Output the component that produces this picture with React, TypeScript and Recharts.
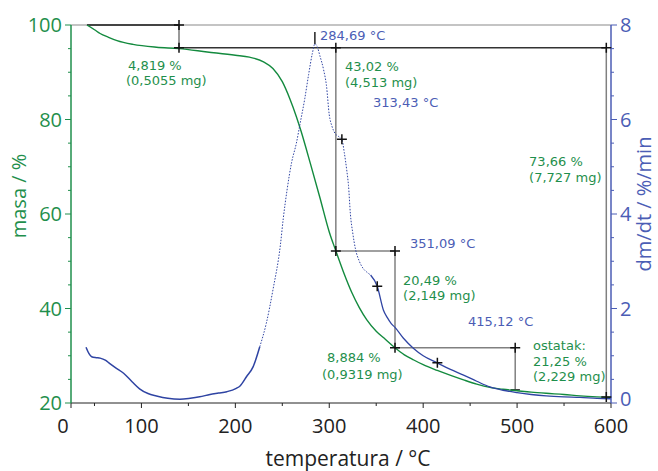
import { LineChart, Line, XAxis, YAxis, ReferenceLine, ReferenceDot } from 'recharts';

// TG curve (masa / %)
const tgTemp = [42, 50, 56, 65, 74, 91, 116, 140, 170, 200, 215, 230, 240, 250, 258, 265, 270, 280, 290, 300, 307, 315, 324, 332, 340, 350, 358, 370, 380, 390, 400, 415, 430, 443, 457, 471, 485, 500, 515, 531, 550, 567, 585, 600];
const tgMass = [100, 99.0, 98.2, 97.4, 96.7, 95.9, 95.3, 95.0, 94.3, 93.6, 93.2, 92.2, 90.8, 88.0, 84.4, 80.6, 77.5, 70.6, 63.5, 56.2, 52.2, 47.8, 43.4, 40.2, 37.6, 35.2, 33.8, 31.7, 30.2, 29.1, 28.1, 26.9, 25.8, 24.9, 24.0, 23.3, 22.9, 22.6, 22.3, 22.05, 21.8, 21.5, 21.3, 21.2];

// DTG curve (dm/dt / %/min), split where the original turns dotted
const dtgLowTemp = [41, 44, 47, 52, 56, 62, 66, 73, 81, 90, 98, 107, 116, 128, 141, 152, 162, 173, 182, 191, 201, 205, 212, 219, 226];
const dtgLowRate = [1.18, 1.05, 0.98, 0.96, 0.95, 0.9, 0.84, 0.74, 0.63, 0.45, 0.3, 0.2, 0.15, 0.1, 0.08, 0.1, 0.13, 0.18, 0.21, 0.24, 0.31, 0.36, 0.56, 0.77, 1.19];
const dtgPeakTemp = [226, 233, 240, 248, 251, 255, 260, 265, 269, 274, 278, 282, 284.7, 287, 290, 294, 297, 300, 303, 306, 310, 313.4, 316, 318.6, 320.5, 322.5, 325, 328, 332, 336, 340, 344];
const dtgPeakRate = [1.19, 1.69, 2.39, 3.35, 3.9, 4.5, 5.1, 5.5, 5.92, 6.45, 6.95, 7.4, 7.6, 7.55, 7.35, 7.05, 6.72, 6.1, 5.85, 5.71, 5.64, 5.58, 5.3, 4.93, 4.6, 4.0, 3.6, 3.25, 3.0, 2.85, 2.77, 2.71];
const dtgTailTemp = [344, 351.1, 357.6, 362, 366, 370, 379, 389.5, 400, 415, 429, 443, 457, 471, 485, 500, 515, 531, 550, 567, 585, 600];
const dtgTailRate = [2.71, 2.47, 1.97, 1.8, 1.68, 1.6, 1.37, 1.16, 1.0, 0.85, 0.71, 0.59, 0.46, 0.34, 0.27, 0.22, 0.18, 0.15, 0.13, 0.12, 0.1, 0.09];

// step analysis points
const stepTemps = [140, 307, 370, 498, 595];
const stepMass = [100, 95.18, 52.16, 31.67, 22.79, 21.25];
const peakTemps = [284.69, 313.43, 351.09, 415.12];
const peakRates = [7.6, 5.58, 2.47, 0.85];

const xTicks = Array.from({ length: 24 }, (_, i) => 25 + i * 25);
const yLeftTicks = Array.from({ length: 17 }, (_, i) => 20 + i * 5);
const yRightTicks = Array.from({ length: 17 }, (_, i) => i * 0.5);

const tgData = tgTemp.map((t, i) => ({ temp: t, masa: tgMass[i] }));
const dtgLow = dtgLowTemp.map((t, i) => ({ temp: t, rate: dtgLowRate[i] }));
const dtgPeak = dtgPeakTemp.map((t, i) => ({ temp: t, rate: dtgPeakRate[i] }));
const dtgTail = dtgTailTemp.map((t, i) => ({ temp: t, rate: dtgTailRate[i] }));

const GREEN = '#1f8f4c';
const GREEN_LINE = '#138a3e';
const BLUE = '#4b5db5';
const BLUE_LINE = '#2f44a3';
const FONT = '"Open Sans", sans-serif';
const NOTE_FONT = '"DejaVu Sans", sans-serif';

// annotation blocks: anchor in data units, lines with small px indents
const notes = [
  { x: 85.7, y: 90.5, lines: ['4,819 %', '(0,5055 mg)'], indent: [0, -2], gap: 15.5, color: GREEN },
  { x: 290.2, y: 96.8, lines: ['284,69 °C'], indent: [0], gap: 16, color: BLUE },
  { x: 316.8, y: 90.3, lines: ['43,02 %', '(4,513 mg)'], indent: [0, 0], gap: 16, color: GREEN },
  { x: 346.6, y: 82.6, lines: ['313,43 °C'], indent: [0], gap: 16, color: BLUE },
  { x: 512.8, y: 70.2, lines: ['73,66 %', '(7,727 mg)'], indent: [0, 0], gap: 16, color: GREEN },
  { x: 386.0, y: 52.8, lines: ['351,09 °C'], indent: [0], gap: 16, color: BLUE },
  { x: 378.6, y: 45.0, lines: ['20,49 %', '(2,149 mg)'], indent: [0, 0], gap: 15.5, color: GREEN },
  { x: 447.8, y: 36.3, lines: ['415,12 °C'], indent: [0], gap: 16, color: BLUE },
  { x: 297.6, y: 28.7, lines: ['8,884 %', '(0,9319 mg)'], indent: [0, -5], gap: 17, color: GREEN },
  { x: 517.0, y: 31.2, lines: ['ostatak:', '21,25 %', '(2,229 mg)'], indent: [0, 0, 0], gap: 15.5, color: GREEN },
];

const Cross = (props: any) => {
  const { cx, cy } = props;
  return <path d={`M${cx - 5},${cy}H${cx + 5}M${cx},${cy - 5}V${cy + 5}`} stroke="#111" strokeWidth={1.5} fill="none" />;
};

const XTick = (props: any) => {
  const { x, y, payload } = props;
  const v = payload.value;
  const major = v % 100 === 0 || v === 25;
  return (
    <g>
      <line x1={x} y1={y} x2={x} y2={y + (major ? 5 : 3)} stroke="#222" />
      {major && (
        <text x={v === 25 ? x - 8 : x} y={y + 30} textAnchor="middle" fill="#222" fontSize={20} fontFamily={FONT}>
          {v === 25 ? 0 : v}
        </text>
      )}
    </g>
  );
};

const LeftTick = (props: any) => {
  const { x, y, payload } = props;
  const major = payload.value % 20 === 0;
  return (
    <g>
      <line x1={x} y1={y} x2={x - (major ? 6 : 3)} y2={y} stroke={GREEN} />
      {major && (
        <text x={x - 9} y={y} dy="0.35em" textAnchor="end" fill={GREEN} fontSize={20} fontFamily={FONT}>
          {payload.value}
        </text>
      )}
    </g>
  );
};

const RightTick = (props: any) => {
  const { x, y, payload } = props;
  const major = payload.value % 2 === 0;
  return (
    <g>
      <line x1={x} y1={y} x2={x + (major ? 6 : 3)} y2={y} stroke={BLUE} />
      {major && (
        <text x={x + 9} y={payload.value === 0 ? y - 4 : y} dy="0.35em" textAnchor="start" fill={BLUE} fontSize={20} fontFamily={FONT}>
          {payload.value}
        </text>
      )}
    </g>
  );
};

const seg = (x1: number, y1: number, x2: number, y2: number) => [{ x: x1, y: y1 }, { x: x2, y: y2 }];

export default function App() {
  const [t1, t2, t3, t4, t5] = stepTemps;
  const [m0, m1, m2, m3, m4, m5] = stepMass;
  return (
    <div style={{ position: 'absolute', left: 0, top: 0 }}>
      <LineChart width={658} height={471} margin={{ top: 25, right: 0, bottom: 0, left: 0 }} style={{ fontFamily: FONT }}>
        <XAxis
          type="number"
          dataKey="temp"
          domain={[25, 600]}
          ticks={xTicks}
          tick={<XTick />}
          tickSize={0}
          tickMargin={0}
          tickLine={false}
          axisLine={{ stroke: '#222' }}
          height={68}
          allowDataOverflow
        />
        <YAxis
          yAxisId="left"
          domain={[20, 100]}
          ticks={yLeftTicks}
          tick={<LeftTick />}
          tickSize={0}
          tickMargin={0}
          tickLine={false}
          axisLine={{ stroke: GREEN, strokeWidth: 1.5 }}
          width={71}
          allowDataOverflow
        />
        <YAxis
          yAxisId="right"
          orientation="right"
          domain={[0, 8]}
          ticks={yRightTicks}
          tick={<RightTick />}
          tickSize={0}
          tickMargin={0}
          tickLine={false}
          axisLine={{ stroke: BLUE, strokeWidth: 1.5 }}
          width={47}
          allowDataOverflow
        />

        <ReferenceLine yAxisId="left" y={100} stroke="#8a8a8a" strokeWidth={1.2} />
        <ReferenceLine yAxisId="left" segment={seg(42, m0, t1, m0)} stroke="#444" strokeWidth={2} />
        <ReferenceLine yAxisId="left" segment={seg(42, 100.6, 42, 99.1)} stroke="#222" strokeWidth={1} />
        <ReferenceLine yAxisId="left" segment={seg(t1, m0, t1, m1)} stroke="#777" strokeWidth={1.5} />
        <ReferenceLine yAxisId="left" segment={seg(t1, m1, t5, m1)} stroke="#333" strokeWidth={1.5} />
        <ReferenceLine yAxisId="left" segment={seg(t2, m1, t2, m2)} stroke="#808080" strokeWidth={1.5} />
        <ReferenceLine yAxisId="left" segment={seg(t2, m2, t3, m2)} stroke="#808080" strokeWidth={1.5} />
        <ReferenceLine yAxisId="left" segment={seg(t3, m2, t3, m3)} stroke="#808080" strokeWidth={1.5} />
        <ReferenceLine yAxisId="left" segment={seg(t3, m3, t4, m3)} stroke="#808080" strokeWidth={1.5} />
        <ReferenceLine yAxisId="left" segment={seg(t4, m3, t4, m4)} stroke="#808080" strokeWidth={1.5} />
        <ReferenceLine yAxisId="left" segment={seg(t4 - 5, m4, t4 + 5, m4)} stroke="#333" strokeWidth={1.5} />
        <ReferenceLine yAxisId="left" segment={seg(t5, m1, t5, m5)} stroke="#808080" strokeWidth={1.5} />
        <ReferenceLine yAxisId="right" segment={seg(peakTemps[0], peakRates[0], peakTemps[0], 7.85)} stroke="#222" strokeWidth={1.5} />

        <Line data={tgData} yAxisId="left" dataKey="masa" type="monotone" stroke={GREEN_LINE} strokeWidth={1.4} dot={false} isAnimationActive={false} />
        <Line data={dtgLow} yAxisId="right" dataKey="rate" type="monotone" stroke={BLUE_LINE} strokeWidth={1.5} dot={false} isAnimationActive={false} />
        <Line data={dtgPeak} yAxisId="right" dataKey="rate" type="monotone" stroke={BLUE_LINE} strokeWidth={1} strokeDasharray="1.5 1.5" dot={false} isAnimationActive={false} />
        <Line data={dtgTail} yAxisId="right" dataKey="rate" type="monotone" stroke={BLUE_LINE} strokeWidth={1.3} dot={false} isAnimationActive={false} />

        {[
          [t1, m0], [t1, m1], [t2, m1], [t5, m1], [t2, m2], [t3, m2], [t3, m3], [t4, m3], [t5, m5],
        ].map(([x, y], i) => (
          <ReferenceDot key={`c${i}`} yAxisId="left" x={x} y={y} r={5} shape={Cross} />
        ))}
        {peakTemps.slice(1).map((t, i) => (
          <ReferenceDot key={`p${i}`} yAxisId="right" x={t} y={peakRates[i + 1]} r={5} shape={Cross} />
        ))}

        {notes.map((n, i) => (
          <ReferenceDot
            key={`n${i}`}
            yAxisId="left"
            x={n.x}
            y={n.y}
            r={0}
            shape={(p: any) => (
              <text x={p.cx} y={p.cy} fill={n.color} fontSize={13} fontFamily={NOTE_FONT}>
                {n.lines.map((line, j) => (
                  <tspan key={j} x={p.cx + n.indent[j]} y={p.cy + j * n.gap}>
                    {line}
                  </tspan>
                ))}
              </text>
            )}
          />
        ))}

        <text x={26} y={196} transform="rotate(-90 26 196)" textAnchor="middle" fill={GREEN} fontSize={20} fontFamily={FONT}>
          masa / %
        </text>
        <text x={651} y={204} transform="rotate(-90 651 204)" textAnchor="middle" fill={BLUE} fontSize={20} fontFamily={FONT}>
          dm/dt / %/min
        </text>
        <text x={348} y={466} textAnchor="middle" fill="#222" fontSize={21} fontFamily={FONT}>
          temperatura / °C
        </text>
      </LineChart>
    </div>
  );
}
